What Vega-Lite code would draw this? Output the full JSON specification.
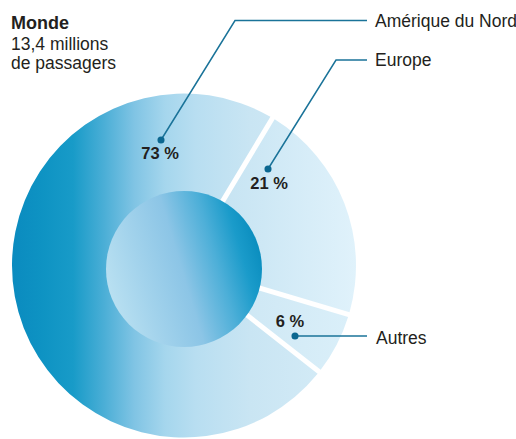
{
  "$schema": "https://vega.github.io/schema/vega-lite/v6.json",
  "width": 516,
  "height": 439,
  "padding": 0,
  "autosize": {"type": "none"},
  "background": "white",
  "view": {"stroke": null},
  "config": {"text": {"font": "Liberation Sans, Arial, sans-serif", "color": "#231f20"}},
  "datasets": {
    "slices": [
      {"region": "Europe", "share": 21},
      {"region": "Autres", "share": 6},
      {"region": "Amérique du Nord", "share": 73}
    ],
    "leaders": [
      {"leader": "Amérique du Nord", "step": 0, "x": 161, "y": 140},
      {"leader": "Amérique du Nord", "step": 1, "x": 235, "y": 20.5},
      {"leader": "Amérique du Nord", "step": 2, "x": 367, "y": 20.5},
      {"leader": "Europe", "step": 0, "x": 268, "y": 169},
      {"leader": "Europe", "step": 1, "x": 336, "y": 60},
      {"leader": "Europe", "step": 2, "x": 367, "y": 60},
      {"leader": "Autres", "step": 0, "x": 295, "y": 336},
      {"leader": "Autres", "step": 1, "x": 367, "y": 336}
    ],
    "labels": [
      {"kind": "head", "text": "Monde", "x": 11, "y": 29},
      {"kind": "sub", "text": "13,4 millions", "x": 11, "y": 50},
      {"kind": "sub", "text": "de passagers", "x": 11, "y": 69},
      {"kind": "region", "text": "Amérique du Nord", "x": 375, "y": 27},
      {"kind": "region", "text": "Europe", "x": 375, "y": 66},
      {"kind": "region", "text": "Autres", "x": 376, "y": 344},
      {"kind": "pct", "text": "73 %", "x": 160, "y": 159},
      {"kind": "pct", "text": "21 %", "x": 269, "y": 189},
      {"kind": "pct", "text": "6 %", "x": 290, "y": 327}
    ]
  },
  "layer": [
    {
      "data": {"name": "slices"},
      "transform": [
        {"stack": "share", "groupby": [], "as": ["s0", "s1"], "sort": [{"field": "region", "order": "descending"}]},
        {"filter": "datum.region == 'Amérique du Nord'"}
      ],
      "mark": {
        "type": "arc", "outerRadius": 172, "innerRadius": 60, "padAngle": 0.0275,
        "fill": {"gradient": "linear", "x1": 0, "y1": 0.5, "x2": 1, "y2": 0.5,
          "stops": [
            {"offset": 0, "color": "#0a8bbf"},
            {"offset": 0.1, "color": "#0e93c3"},
            {"offset": 0.2, "color": "#189bc8"},
            {"offset": 0.3, "color": "#4aaed6"},
            {"offset": 0.4, "color": "#80c4e4"},
            {"offset": 0.5, "color": "#a5d6ed"},
            {"offset": 0.6, "color": "#b8def1"},
            {"offset": 0.78, "color": "#c9e5f3"},
            {"offset": 1, "color": "#d2eaf6"}
          ]}
      },
      "encoding": {
        "theta": {"field": "s0", "type": "quantitative", "scale": {"domain": [0, 100], "range": [0.541, 6.824]}},
        "theta2": {"field": "s1"},
        "x": {"datum": 184, "type": "quantitative", "scale": {"domain": [0, 516], "nice": false, "zero": false}, "axis": null},
        "y": {"datum": 265.5, "type": "quantitative", "scale": {"domain": [0, 439], "nice": false, "zero": false, "reverse": true}, "axis": null}
      }
    },
    {
      "data": {"name": "slices"},
      "transform": [
        {"stack": "share", "groupby": [], "as": ["s0", "s1"], "sort": [{"field": "region", "order": "descending"}]},
        {"filter": "datum.region == 'Europe'"}
      ],
      "mark": {
        "type": "arc", "outerRadius": 172, "innerRadius": 60, "padAngle": 0.0275,
        "fill": {"gradient": "linear", "x1": 0, "y1": 0.5, "x2": 1, "y2": 0.5,
          "stops": [
            {"offset": 0, "color": "#c5e3f2"},
            {"offset": 1, "color": "#e0f2fb"}
          ]}
      },
      "encoding": {
        "theta": {"field": "s0", "type": "quantitative", "scale": {"domain": [0, 100], "range": [0.541, 6.824]}},
        "theta2": {"field": "s1"},
        "x": {"datum": 184, "type": "quantitative", "scale": {"domain": [0, 516], "nice": false, "zero": false}, "axis": null},
        "y": {"datum": 265.5, "type": "quantitative", "scale": {"domain": [0, 439], "nice": false, "zero": false, "reverse": true}, "axis": null}
      }
    },
    {
      "data": {"name": "slices"},
      "transform": [
        {"stack": "share", "groupby": [], "as": ["s0", "s1"], "sort": [{"field": "region", "order": "descending"}]},
        {"filter": "datum.region == 'Autres'"}
      ],
      "mark": {
        "type": "arc", "outerRadius": 172, "innerRadius": 60, "padAngle": 0.0275,
        "fill": {"gradient": "linear", "x1": 0, "y1": 0.5, "x2": 1, "y2": 0.5,
          "stops": [
            {"offset": 0, "color": "#cde7f4"},
            {"offset": 1, "color": "#daeff9"}
          ]}
      },
      "encoding": {
        "theta": {"field": "s0", "type": "quantitative", "scale": {"domain": [0, 100], "range": [0.541, 6.824]}},
        "theta2": {"field": "s1"},
        "x": {"datum": 184, "type": "quantitative", "scale": {"domain": [0, 516], "nice": false, "zero": false}, "axis": null},
        "y": {"datum": 265.5, "type": "quantitative", "scale": {"domain": [0, 439], "nice": false, "zero": false, "reverse": true}, "axis": null}
      }
    },
    {
      "data": {"values": [{"part": "centre"}]},
      "mark": {
        "type": "arc", "outerRadius": 78, "innerRadius": 0, "theta": 0, "theta2": 6.2832,
        "fill": {"gradient": "linear", "x1": 0, "y1": 0.7, "x2": 1, "y2": 0.4,
          "stops": [
            {"offset": 0, "color": "#bce2f2"},
            {"offset": 0.25, "color": "#a3d3ec"},
            {"offset": 0.5, "color": "#8cc5e6"},
            {"offset": 0.72, "color": "#4dafd8"},
            {"offset": 0.88, "color": "#1a9bca"},
            {"offset": 1, "color": "#0a8dbe"}
          ]}
      },
      "encoding": {
        "x": {"datum": 184, "type": "quantitative", "scale": {"domain": [0, 516], "nice": false, "zero": false}, "axis": null},
        "y": {"datum": 269, "type": "quantitative", "scale": {"domain": [0, 439], "nice": false, "zero": false, "reverse": true}, "axis": null}
      }
    },
    {
      "data": {"name": "leaders"},
      "mark": {"type": "line", "stroke": "#1a7399", "strokeWidth": 1.5},
      "encoding": {
        "x": {"field": "x", "type": "quantitative", "scale": {"domain": [0, 516], "nice": false, "zero": false}, "axis": null},
        "y": {"field": "y", "type": "quantitative", "scale": {"domain": [0, 439], "nice": false, "zero": false, "reverse": true}, "axis": null},
        "detail": {"field": "leader", "type": "nominal"},
        "order": {"field": "step", "type": "quantitative"}
      }
    },
    {
      "data": {"name": "leaders"},
      "transform": [{"filter": "datum.step == 0"}],
      "mark": {"type": "point", "filled": true, "shape": "circle", "size": 50, "color": "#0b6790", "opacity": 1},
      "encoding": {
        "x": {"field": "x", "type": "quantitative", "scale": {"domain": [0, 516], "nice": false, "zero": false}, "axis": null},
        "y": {"field": "y", "type": "quantitative", "scale": {"domain": [0, 439], "nice": false, "zero": false, "reverse": true}, "axis": null}
      }
    },
    {
      "data": {"name": "labels"},
      "transform": [{"filter": "datum.kind == 'head'"}],
      "mark": {"type": "text", "align": "left", "baseline": "alphabetic", "fontSize": 18, "fontWeight": "bold"},
      "encoding": {
        "x": {"field": "x", "type": "quantitative", "scale": {"domain": [0, 516], "nice": false, "zero": false}, "axis": null},
        "y": {"field": "y", "type": "quantitative", "scale": {"domain": [0, 439], "nice": false, "zero": false, "reverse": true}, "axis": null},
        "text": {"field": "text"}
      }
    },
    {
      "data": {"name": "labels"},
      "transform": [{"filter": "datum.kind == 'sub' || datum.kind == 'region'"}],
      "mark": {"type": "text", "align": "left", "baseline": "alphabetic", "fontSize": 17.5},
      "encoding": {
        "x": {"field": "x", "type": "quantitative", "scale": {"domain": [0, 516], "nice": false, "zero": false}, "axis": null},
        "y": {"field": "y", "type": "quantitative", "scale": {"domain": [0, 439], "nice": false, "zero": false, "reverse": true}, "axis": null},
        "text": {"field": "text"}
      }
    },
    {
      "data": {"name": "labels"},
      "transform": [{"filter": "datum.kind == 'pct'"}],
      "mark": {"type": "text", "align": "center", "baseline": "alphabetic", "fontSize": 16.5, "fontWeight": "bold"},
      "encoding": {
        "x": {"field": "x", "type": "quantitative", "scale": {"domain": [0, 516], "nice": false, "zero": false}, "axis": null},
        "y": {"field": "y", "type": "quantitative", "scale": {"domain": [0, 439], "nice": false, "zero": false, "reverse": true}, "axis": null},
        "text": {"field": "text"}
      }
    }
  ]
}
